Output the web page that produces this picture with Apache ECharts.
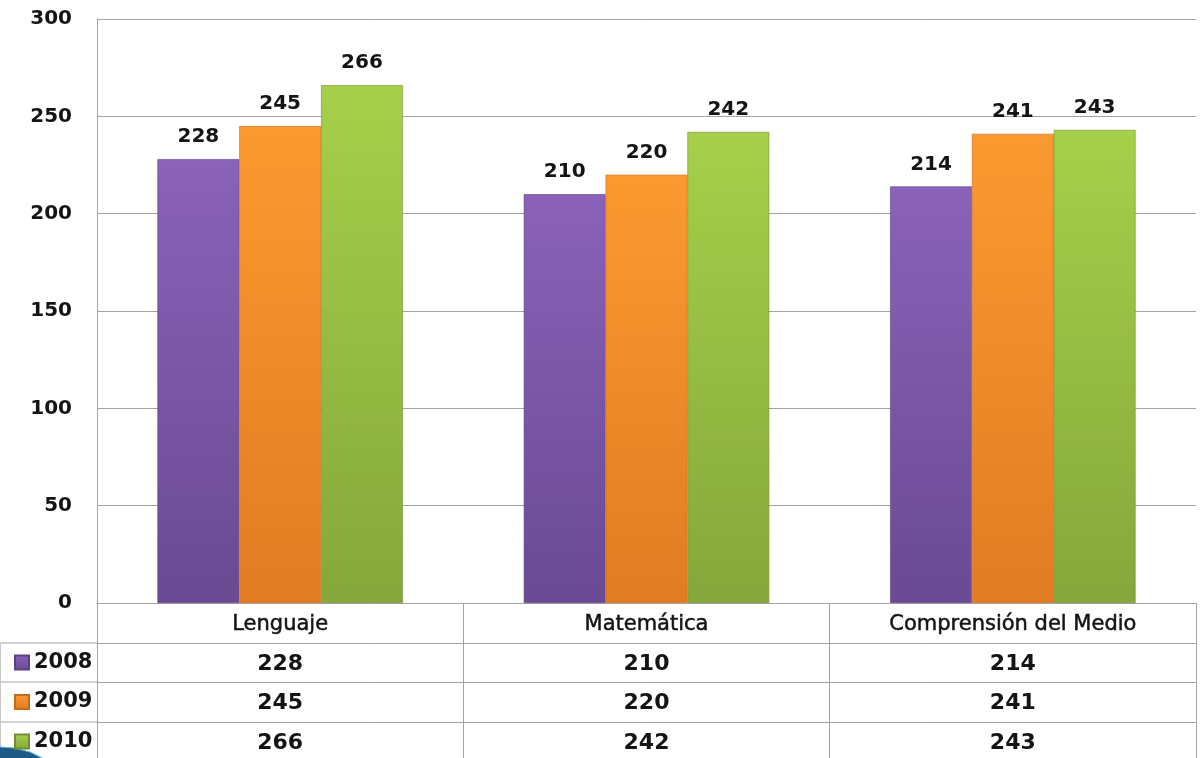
<!DOCTYPE html>
<html>
<head>
<meta charset="utf-8">
<script src="https://cdn.jsdelivr.net/npm/echarts@6/dist/echarts.min.js"></script>
<style>
  html, body { margin: 0; padding: 0; background: #fff; }
  #chart { width: 1204px; height: 758px; }
</style>
</head>
<body>
<div id="chart"></div>
<script>
const categories = ['Lenguaje', 'Matemática', 'Comprensión del Medio'];
const years = ['2008', '2009', '2010'];
const values2008 = [228, 210, 214];
const values2009 = [245, 220, 241];
const values2010 = [266, 242, 243];
const yTicks = { min: 0, max: 300, interval: 50 };

const seriesValues = [values2008, values2009, values2010];

// colores tipo Excel (arriba claro, abajo oscuro)
const barColors = [
  ['#8a62b9', '#6a4a93', '#5c4182'],
  ['#fb9a30', '#e27b22', '#c9691a'],
  ['#a6d04a', '#85a73b', '#728f32']
];

const gray = '#a3a3a3';
const font = 'DejaVu Sans';
const ink = '#141414';

function grad(c) {
  return new echarts.graphic.LinearGradient(0, 0, 0, 1, [
    { offset: 0, color: c[0] },
    { offset: 1, color: c[1] }
  ]);
}

// ejes que hacen de filas de la tabla de datos
const rowOffsets = [40, 79, 119];
const rowAxes = seriesValues.map((vals, i) => ({
  type: 'category',
  gridIndex: 0,
  position: 'bottom',
  offset: rowOffsets[i],
  data: categories,
  axisLine: { show: true, lineStyle: { color: gray, width: 1 } },
  axisTick: { show: false },
  axisLabel: {
    margin: 10,
    fontFamily: font,
    fontSize: 22,
    fontWeight: 'bold',
    color: ink,
    formatter: (v, idx) => String(vals[idx])
  }
}));

// una leyenda por fila de la tabla
const legends = years.map((y, i) => ({
  orient: 'vertical',
  left: 14,
  top: 652 + i * 39.5,
  padding: 0,
  itemWidth: 14,
  itemHeight: 14,
  itemGap: 0,
  icon: 'rect',
  selectedMode: false,
  textStyle: { fontFamily: font, fontSize: 21, fontWeight: 'bold', color: ink },
  data: [y]
}));

const option = {
  animation: false,
  textStyle: { fontFamily: font },
  grid: { left: 97, right: 8, top: 19, bottom: 155 },
  legend: legends,
  xAxis: [{
    type: 'category',
    gridIndex: 0,
    position: 'bottom',
    data: categories,
    axisLine: { show: true, lineStyle: { color: gray, width: 1 } },
    axisTick: { show: true, length: 160, interval: 0, lineStyle: { color: gray, width: 1 } },
    axisLabel: {
      margin: 11, fontSize: 21, fontFamily: font, color: ink, interval: 0,
      textBorderColor: ink, textBorderWidth: 0.5
    }
  }].concat(rowAxes),
  yAxis: {
    type: 'value',
    min: yTicks.min,
    max: yTicks.max,
    interval: yTicks.interval,
    axisLine: { show: true, lineStyle: { color: gray, width: 1 } },
    axisTick: { show: false },
    splitLine: { show: true, lineStyle: { color: gray, width: 1 } },
    axisLabel: { margin: 25, fontSize: 20, fontWeight: 'bold', fontFamily: font, color: ink }
  },
  series: years.map((y, i) => ({
    type: 'bar',
    name: y,
    xAxisIndex: 0,
    yAxisIndex: 0,
    data: seriesValues[i],
    barGap: '0%',
    barCategoryGap: '33%',
    itemStyle: { color: grad(barColors[i]), borderColor: barColors[i][2], borderWidth: 0.6 },
    label: {
      show: true,
      position: 'top',
      distance: 12,
      fontSize: 20,
      fontWeight: 'bold',
      fontFamily: font,
      color: ink
    }
  })),
  graphic: [
    // líneas de la columna de leyenda de la tabla
    { type: 'line', shape: { x1: 0, y1: 643, x2: 97, y2: 643 }, style: { stroke: gray, lineWidth: 1 } },
    { type: 'line', shape: { x1: 0, y1: 682, x2: 97, y2: 682 }, style: { stroke: gray, lineWidth: 1 } },
    { type: 'line', shape: { x1: 0, y1: 722, x2: 97, y2: 722 }, style: { stroke: gray, lineWidth: 1 } },
    { type: 'line', shape: { x1: 0.5, y1: 643, x2: 0.5, y2: 758 }, style: { stroke: '#c8c8c8', lineWidth: 1 } },
    // adorno azul de la plantilla
    {
      type: 'polygon',
      shape: { points: [[0, 747], [14, 748], [30, 752], [42, 758], [0, 758]] },
      style: { fill: '#1d5a86' }
    },
    {
      type: 'polyline',
      shape: { points: [[0, 747], [14, 748], [30, 752], [42, 758]] },
      style: { stroke: '#5fb3d6', lineWidth: 1.2, fill: null }
    }
  ]
};

const chart = echarts.init(document.getElementById('chart'));
chart.setOption(option);
</script>
</body>
</html>
